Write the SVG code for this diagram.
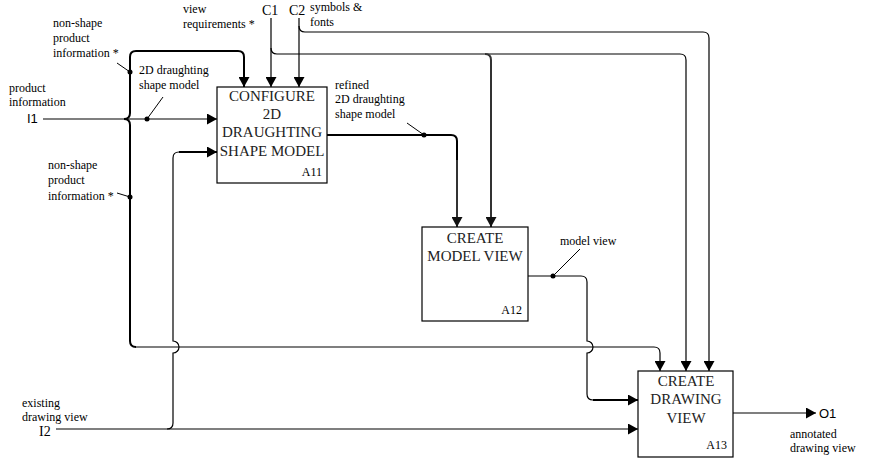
<svg xmlns="http://www.w3.org/2000/svg" width="879" height="469" viewBox="0 0 879 469">
<defs>
<marker id="ah" markerUnits="userSpaceOnUse" markerWidth="10" markerHeight="11" refX="10" refY="5.5" orient="auto">
<path d="M0,0 L10,5.5 L0,11 z" fill="#000"/>
</marker>
<marker id="ahg" markerUnits="userSpaceOnUse" markerWidth="10" markerHeight="11" refX="10" refY="5.5" orient="auto">
<path d="M0,0 L10,5.5 L0,11 z" fill="#111"/>
</marker>
<style>
.box{fill:#fff;stroke:#000;stroke-width:1.2}
.t{font-family:'Liberation Serif','Times New Roman','DejaVu Serif',serif;font-size:15px;fill:#222;text-anchor:middle}
.id{font-family:'Liberation Serif','Times New Roman','DejaVu Serif',serif;font-size:12px;fill:#000;text-anchor:end}
.l{font-family:'Liberation Serif','Times New Roman','DejaVu Serif',serif;font-size:12px;fill:#000}
.s{font-family:'Liberation Sans',Arial,sans-serif;font-size:13px;fill:#000}
.c{font-family:'Liberation Serif','Times New Roman','DejaVu Serif',serif;font-size:14px;fill:#000}
.w{fill:none;stroke:#000;stroke-width:1.2}
.k{fill:none;stroke:#000;stroke-width:2}
.g{fill:none;stroke:#333;stroke-width:2}
.ld{fill:none;stroke:#000;stroke-width:1}
.dot{fill:#000}
</style>
</defs>
<g id="connectors">
<path class="w" d="M43,119 H217" marker-end="url(#ah)"/>
<path class="k" d="M124,119 Q130,119 130,113 V57 Q130,51 136,51 H238 Q244,51 244,57 V87" marker-end="url(#ah)"/>
<path class="k" d="M124,119 Q130,119 130,125 V341 Q130,347 136,347"/>
<path class="w" d="M136,347 H654 Q660,347 660,353 V371" marker-end="url(#ah)"/>
<path class="w" d="M56,429 H638" marker-end="url(#ah)"/>
<path class="w" d="M167,429 Q173,429 173,423 V353 A6,6 0 0 0 173,341 V158 Q173,152 179,152"/>
<path class="k" d="M179,152 H217" marker-end="url(#ah)"/>
<path class="w" d="M271,18 V87" marker-end="url(#ah)"/>
<path class="w" d="M271,48 Q271,54 277,54 H680 Q686,54 686,60 V371" marker-end="url(#ah)"/>
<path class="g" d="M485,54 Q491,54 491,60 V227" marker-end="url(#ahg)"/>
<path class="w" d="M299,18 V87" marker-end="url(#ah)"/>
<path class="w" d="M299,26 Q299,32 305,32 H703 Q709,32 709,38 V371" marker-end="url(#ah)"/>
<path class="k" d="M327,135 H451 Q457,135 457,141 V160"/>
<path class="g" d="M457,160 V227" marker-end="url(#ahg)"/>
<path class="w" d="M528,276 H581 Q587,276 587,282 V341 A6,6 0 0 1 587,353 V394 Q587,400 593,400"/>
<path class="k" d="M593,400 H638" marker-end="url(#ah)"/>
<path class="w" d="M733,413 H816" marker-end="url(#ah)"/>
<path class="ld" d="M117,63 L130,72"/>
<path class="ld" d="M163,97 L147,119"/>
<path class="ld" d="M117,193 L130,197"/>
<path class="ld" d="M407,123 L424,135"/>
<path class="ld" d="M580,249 L553,276"/>
<circle class="dot" cx="130" cy="72" r="2.5"/>
<circle class="dot" cx="147" cy="119" r="2.5"/>
<circle class="dot" cx="130" cy="197" r="2.5"/>
<circle class="dot" cx="424" cy="135" r="2.5"/>
<circle class="dot" cx="553" cy="276" r="2.5"/>
</g>
<g id="A11">
<rect class="box" x="217" y="87" width="110" height="96"/>
<text class="t" x="272" y="101">CONFIGURE</text>
<text class="t" x="272" y="119">2D</text>
<text class="t" x="272" y="137">DRAUGHTING</text>
<text class="t" x="272" y="156">SHAPE MODEL</text>
<text class="id" x="322" y="176">A11</text>
</g>
<g id="A12">
<rect class="box" x="422" y="227" width="106" height="94"/>
<text class="t" x="475" y="243">CREATE</text>
<text class="t" x="475" y="261">MODEL VIEW</text>
<text class="id" x="522" y="314">A12</text>
</g>
<g id="A13">
<rect class="box" x="638" y="371" width="95" height="86"/>
<text class="t" x="686" y="386">CREATE</text>
<text class="t" x="686" y="404">DRAWING</text>
<text class="t" x="686" y="423">VIEW</text>
<text class="id" x="727" y="449">A13</text>
</g>
<g id="labels">
<text class="l" x="53" y="27">non-shape</text>
<text class="l" x="53" y="42">product</text>
<text class="l" x="53" y="57">information *</text>
<text class="l" x="9" y="92">product</text>
<text class="l" x="9" y="106">information</text>
<text class="s" x="27" y="123">I1</text>
<text class="l" x="139" y="74">2D draughting</text>
<text class="l" x="139" y="89">shape model</text>
<text class="l" x="48" y="169">non-shape</text>
<text class="l" x="48" y="184">product</text>
<text class="l" x="48" y="200">information *</text>
<text class="l" x="183" y="13">view</text>
<text class="l" x="183" y="28">requirements *</text>
<text class="c" x="262" y="15">C1</text>
<text class="c" x="289" y="15">C2</text>
<text class="l" x="310" y="11">symbols &amp;</text>
<text class="l" x="310" y="26">fonts</text>
<text class="l" x="335" y="89">refined</text>
<text class="l" x="335" y="103">2D draughting</text>
<text class="l" x="335" y="118">shape model</text>
<text class="l" x="560" y="245">model view</text>
<text class="l" x="22" y="407">existing</text>
<text class="l" x="22" y="421">drawing view</text>
<text class="c" x="39" y="436">I2</text>
<text class="s" x="819" y="418">O1</text>
<text class="l" x="790" y="438">annotated</text>
<text class="l" x="790" y="452">drawing view</text>
</g>
</svg>
